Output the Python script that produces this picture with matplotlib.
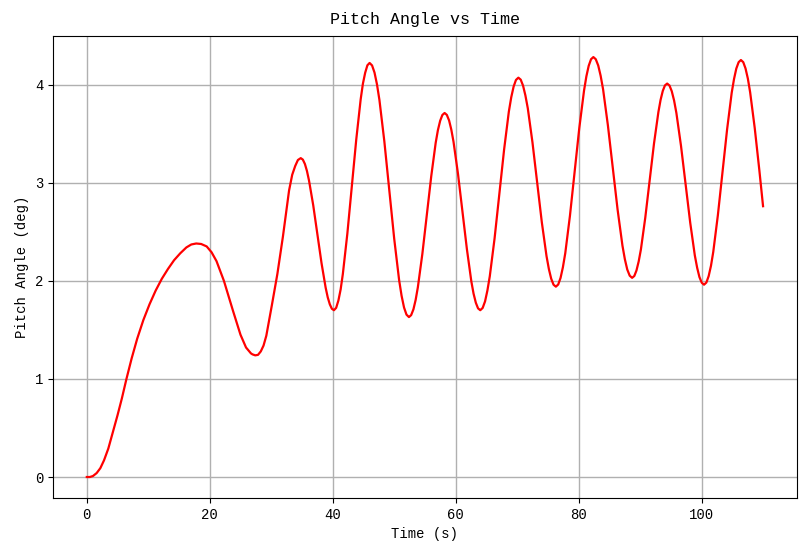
import matplotlib
matplotlib.use("Agg")
import matplotlib.pyplot as plt
from matplotlib import font_manager

names = {f.name for f in font_manager.fontManager.ttflist}
fam = [n for n in ["Noto Sans Mono CJK SC", "Liberation Mono", "DejaVu Sans Mono"] if n in names]
plt.rcParams['font.family'] = fam + ['DejaVu Sans']

# Time (s) - main readings
time_s = [
    0.0, 0.5, 1.0, 1.6, 2.2, 2.8, 3.5, 4.3, 5.0, 5.7, 6.45, 7.3, 8.2, 9.2, 10.2, 11.2, 12.2,
    13.2, 14.2, 15.2, 16.2, 17.0, 17.8,
    18.6, 19.5, 20.3, 21.1, 22.3, 23.8, 25.0, 25.9, 26.7, 27.4,
    28.3, 28.75, 29.2, 30.1, 31.0, 31.9, 32.9, 33.9, 34.8,
    35.48, 36.15, 36.83, 37.5, 38.18, 38.85, 39.53, 40.2,
    40.93, 41.65, 42.38, 43.1, 43.83, 44.55, 45.28, 46.0,
    46.8, 47.6, 48.4, 49.2, 50.0, 50.8, 51.6, 52.4,
    53.13, 53.85, 54.58, 55.3, 56.03, 56.75, 57.48, 58.2,
    58.93, 59.65, 60.38, 61.1, 61.83, 62.55, 63.28, 64.0,
    64.78, 65.55, 66.33, 67.1, 67.88, 68.65, 69.43, 70.2,
    70.96, 71.73, 72.49, 73.25, 74.01, 74.78, 75.54, 76.3,
    77.06, 77.83, 78.59, 79.35, 80.11, 80.88, 81.64, 82.4,
    83.19, 83.98, 84.76, 85.55, 86.34, 87.13, 87.91, 88.7,
    89.41, 90.13, 90.84, 91.55, 92.26, 92.98, 93.69, 94.4,
    95.15, 95.9, 96.65, 97.4, 98.15, 98.9, 99.65, 100.4,
    101.15, 101.9, 102.65, 103.4, 104.15, 104.9, 105.65, 106.4,
    107.15, 107.9, 108.65, 109.4, 110.0,
]

# Pitch angle (deg) - main readings
pitch_deg = [
    0.0, 0.0, 0.01, 0.04, 0.09, 0.17, 0.29, 0.47, 0.63, 0.80, 1.0, 1.21, 1.41, 1.60, 1.76, 1.90, 2.02,
    2.12, 2.21, 2.28, 2.34, 2.37, 2.38,
    2.375, 2.35, 2.29, 2.20, 2.00, 1.69, 1.45, 1.32, 1.26, 1.24,
    1.28, 1.34, 1.44, 1.75, 2.07, 2.45, 2.92, 3.17, 3.25,
    3.19, 3.02, 2.77, 2.475, 2.18, 1.93, 1.76, 1.70,
    1.80, 2.07, 2.48, 2.96, 3.44, 3.85, 4.12, 4.22,
    4.122, 3.842, 3.42, 2.925, 2.43, 2.008, 1.728, 1.63,
    1.709, 1.934, 2.273, 2.67, 3.067, 3.406, 3.631, 3.71,
    3.634, 3.417, 3.089, 2.705, 2.321, 1.993, 1.776, 1.70,
    1.79, 2.046, 2.432, 2.885, 3.338, 3.724, 3.98, 4.07,
    3.989, 3.759, 3.412, 3.005, 2.598, 2.251, 2.021, 1.94,
    2.029, 2.282, 2.663, 3.11, 3.557, 3.938, 4.191, 4.28,
    4.194, 3.951, 3.585, 3.155, 2.725, 2.358, 2.115, 2.03,
    2.105, 2.319, 2.642, 3.02, 3.398, 3.721, 3.935, 4.01,
    3.932, 3.711, 3.377, 2.985, 2.593, 2.259, 2.038, 1.96,
    2.047, 2.294, 2.668, 3.105, 3.542, 3.916, 4.163, 4.25,
    4.164, 3.921, 3.555, 3.125, 2.76,
]

# Extra readings around peaks and troughs
extra_time_s = [
    26.95, 27.85, 33.41, 34.34,
    35.14, 35.81, 39.19, 39.86,
    40.56, 41.29, 44.91, 45.64,
    46.4, 47.2, 51.2, 52.0,
    52.76, 53.49, 57.11, 57.84,
    58.56, 59.29, 62.91, 63.64,
    64.39, 65.16, 69.04, 69.81,
    70.58, 71.34, 75.16, 75.92,
    76.68, 77.44, 81.26, 82.02,
    82.79, 83.58, 87.52, 88.31,
    89.06, 89.77, 93.33, 94.04,
    94.78, 95.53, 99.28, 100.03,
    100.78, 101.53, 105.28, 106.03,
    106.78, 107.53,
]
extra_pitch_deg = [
    1.25, 1.245, 3.08, 3.231,
    3.235, 3.119, 1.831, 1.715,
    1.724, 1.912, 4.008, 4.196,
    4.195, 4.002, 1.848, 1.655,
    1.65, 1.805, 3.535, 3.69,
    3.691, 3.541, 1.869, 1.719,
    1.723, 1.90, 3.87, 4.047,
    4.05, 3.89, 2.12, 1.96,
    1.962, 2.137, 4.083, 4.258,
    4.258, 4.09, 2.22, 2.052,
    2.049, 2.197, 3.843, 3.991,
    3.99, 3.837, 2.133, 1.98,
    1.982, 2.153, 4.057, 4.228,
    4.228, 4.06,
]

pairs = sorted(zip(time_s + extra_time_s, pitch_deg + extra_pitch_deg))
t_all = [p[0] for p in pairs]
y_all = [p[1] for p in pairs]

fig = plt.figure(figsize=(8.09, 5.55), dpi=100)
ax = fig.add_axes([0.0655, 0.1027, 0.9195, 0.8323])
ax.plot(t_all, y_all, color='red', linewidth=1.6)
ax.set_title('Pitch Angle vs Time', fontsize=12, pad=9)
ax.set_xlabel('Time (s)', fontsize=10)
ax.set_ylabel('Pitch Angle (deg)', fontsize=10)
ax.grid(True, color='#b0b0b0', linewidth=1.0)
ax.tick_params(labelsize=10)
fig.savefig('out.png', dpi=100)
